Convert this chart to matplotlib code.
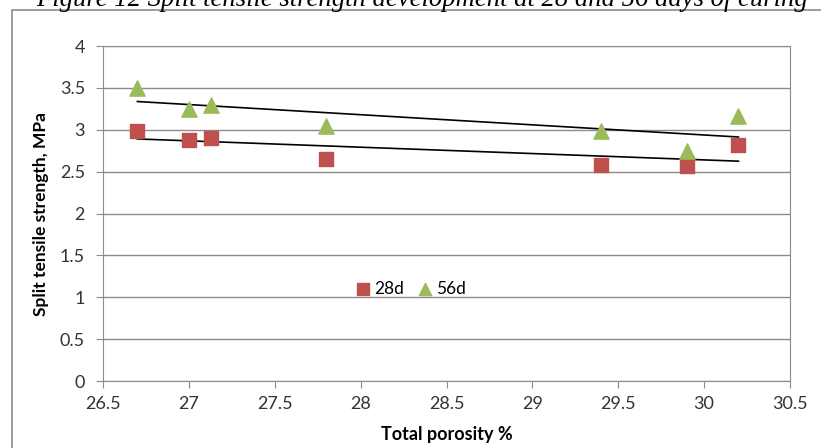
import numpy as np
import matplotlib
matplotlib.use("Agg")
import matplotlib.pyplot as plt
from matplotlib.patches import Rectangle

# porosity (%) and split tensile strength (MPa) after 28 and 56 days
porosity = [26.7, 27.0, 27.13, 27.8, 29.4, 29.9, 30.2]
strength_28d = [2.98, 2.88, 2.90, 2.65, 2.58, 2.57, 2.82]
strength_56d = [3.50, 3.25, 3.30, 3.05, 2.98, 2.75, 3.17]

x_ticks = [26.5, 27, 27.5, 28, 28.5, 29, 29.5, 30, 30.5]
y_ticks = [0, 0.5, 1, 1.5, 2, 2.5, 3, 3.5, 4]

red = "#C0504D"
green = "#9BBB59"
grey = "#8C8C8C"

plt.rcParams["font.family"] = ["Lato", "DejaVu Sans"]

fig = plt.figure(figsize=(8.21, 4.48), dpi=100)
ax = fig.add_axes([103 / 821, 1 - 381 / 448, 687 / 821, 335 / 448])

# outer chart border
fig.patches.append(Rectangle((12 / 821, -0.1), 1.2, 1 - 10 / 448 + 0.1,
                             transform=fig.transFigure, fill=False,
                             edgecolor=grey, lw=1.2))

fig.text(0.514, 1 - 6 / 448,
         "Figure 12 Split tensile strength development at 28 and 56 days of curing",
         ha="center", va="baseline", fontsize=19.2, style="italic",
         family="Liberation Serif")

ax.scatter(porosity, strength_28d, marker="s", s=110, color=red, label="28d",
           zorder=3)
ax.scatter(porosity, strength_56d, marker="^", s=120, color=green, label="56d",
           zorder=3)

# linear trend lines
xs = np.array([min(porosity), max(porosity)])
for series in (strength_28d, strength_56d):
    k, b = np.polyfit(porosity, series, 1)
    ax.plot(xs, k * xs + b, color="black", lw=1.2, zorder=2)

ax.set_xlim(26.5, 30.5)
ax.set_ylim(0, 4)
ax.set_xticks(x_ticks)
ax.set_xticklabels([f"{v:g}" for v in x_ticks])
ax.set_yticks(y_ticks)
ax.set_yticklabels([f"{v:g}" for v in y_ticks])
ax.yaxis.grid(True, color=grey, lw=1)
ax.set_axisbelow(True)
for s in ax.spines.values():
    s.set_color(grey)
ax.tick_params(colors=grey, labelcolor="#333333", labelsize=13, length=5,
               direction="out")
ax.tick_params(axis="y", pad=8)
ax.tick_params(axis="x", pad=6)

ax.set_xlabel("Total porosity %", fontsize=13, fontweight="bold", labelpad=10)
ax.set_ylabel("Split tensile strength, MPa", fontsize=12.5, fontweight="bold",
              labelpad=8)

ax.legend(loc="center", bbox_to_anchor=(0.448, 0.275), ncol=2, frameon=False,
          fontsize=12.5, handlelength=0.8, handletextpad=0.25,
          columnspacing=0.8, markerscale=0.8)

fig.savefig("out.png", dpi=100)
